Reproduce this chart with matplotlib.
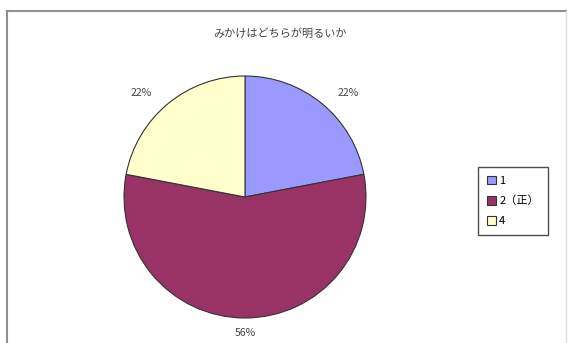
import matplotlib.pyplot as plt
from matplotlib.lines import Line2D

plt.rcParams['font.family'] = ['Noto Sans CJK JP', 'DejaVu Sans']

title = 'みかけはどちらが明るいか'
labels = ['1', '2（正）', '4']
shares = [22, 56, 22]
colors = ['#9999FF', '#993366', '#FFFFCC']

fig = plt.figure(figsize=(5.68, 3.43), dpi=100)

# chart area frame (left, top, right)
fig.add_artist(Line2D([6.5 / 568, 6.5 / 568], [0, 1 - 10.5 / 343], color='#909090', lw=1.5))
fig.add_artist(Line2D([6.5 / 568, 566 / 568], [1 - 10.5 / 343, 1 - 10.5 / 343], color='#909090', lw=1.5))
fig.add_artist(Line2D([566 / 568, 566 / 568], [0, 1 - 10.5 / 343], color='#e0e0e0', lw=1))

fig.text(280 / 568, 1 - 33 / 343, title, ha='center', va='center', fontsize=8, color='#444444')

ax = fig.add_axes([124 / 568, 25 / 343, 242 / 568, 242 / 343])
wedges, texts, autotexts = ax.pie(
    shares, colors=colors, startangle=90, counterclock=False,
    autopct='%d%%', pctdistance=1.12,
    wedgeprops=dict(edgecolor='#333333', linewidth=0.8),
    textprops=dict(fontsize=7.5, color='#444444'))
# push the side labels a bit further out horizontally
for t in autotexts:
    x, y = t.get_position()
    t.set_position((x * 1.2, y))
ax.set_xlim(-1, 1)
ax.set_ylim(-1, 1)
ax.axis('off')

leg = fig.legend(wedges, labels, loc='center left', bbox_to_anchor=(478 / 568, 1 - 201 / 343),
                 fontsize=8, frameon=True, fancybox=False, edgecolor='#222222',
                 handlelength=0.8, handleheight=0.8, handletextpad=0.3,
                 labelspacing=0.9, borderpad=0.8, borderaxespad=0)
leg.get_frame().set_linewidth(1.0)

fig.savefig('out.png', dpi=100)
